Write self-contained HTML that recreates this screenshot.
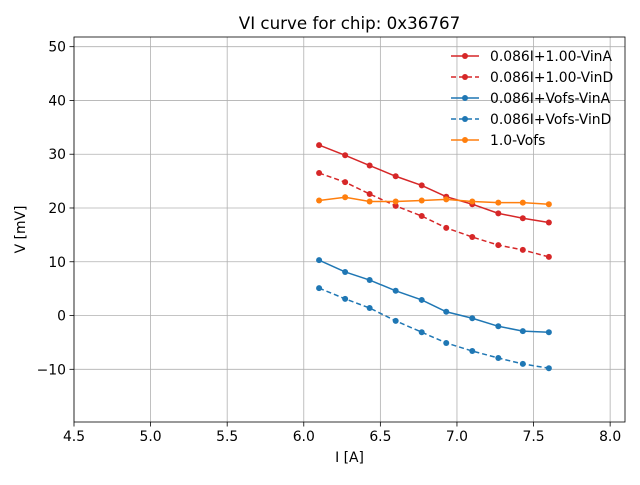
<!DOCTYPE html>
<html><head><meta charset="utf-8"><style>
body{margin:0;background:#fff;font-family:"Liberation Sans","DejaVu Sans",sans-serif;}
svg text{font-family:"DejaVu Sans","Liberation Sans",sans-serif;}
</style></head><body>
<svg id="chart" width="640" height="480" xmlns="http://www.w3.org/2000/svg"></svg>
<script>
const xValues=[6.1,6.27,6.43,6.6,6.77,6.93,7.1,7.27,7.43,7.6];
const redSolid=[31.7,29.8,27.9,25.9,24.2,22.1,20.7,19.0,18.1,17.3];
const redDashed=[26.5,24.8,22.6,20.4,18.5,16.3,14.6,13.1,12.2,10.9];
const blueSolid=[10.3,8.1,6.6,4.6,2.9,0.7,-0.5,-2.0,-2.9,-3.1];
const blueDashed=[5.1,3.1,1.4,-1.0,-3.1,-5.1,-6.6,-7.9,-9.0,-9.8];
const orange=[21.4,22.0,21.2,21.2,21.4,21.6,21.2,21.0,21.0,20.7];
const xTicks=[4.5,5.0,5.5,6.0,6.5,7.0,7.5,8.0];
const yTicks=[-10,0,10,20,30,40,50];
const seriesNames=["0.086I+1.00-VinA","0.086I+1.00-VinD","0.086I+Vofs-VinA","0.086I+Vofs-VinD","1.0-Vofs"];

const L=74,R=625,T=37,B=422,xmin=4.5,xmax=8.097,ymin=-19.8,ymax=51.8;
const sx=v=>L+(v-xmin)/(xmax-xmin)*(R-L);
const sy=v=>B-(v-ymin)/(ymax-ymin)*(B-T);
const svg=document.getElementById('chart');
const NS='http://www.w3.org/2000/svg';
function mk(tag,attrs,parent){const e=document.createElementNS(NS,tag);for(const k in attrs)e.setAttribute(k,attrs[k]);(parent||svg).appendChild(e);return e;}
xTicks.forEach(t=>{const l=mk('line',{x1:sx(t),x2:sx(t),y1:T,y2:B,stroke:'#b0b0b0','stroke-width':0.8});


mk('line',{x1:sx(t),x2:sx(t),y1:B,y2:B+4.5,stroke:'#000','stroke-width':0.8});
const tx=mk('text',{x:sx(t),y:B+19,'text-anchor':'middle','font-size':13.9});tx.textContent=t.toFixed(1);

});
yTicks.forEach(t=>{const l=mk('line',{x1:L,x2:R,y1:sy(t),y2:sy(t),stroke:'#b0b0b0','stroke-width':0.8});


mk('line',{x1:L-4.5,x2:L,y1:sy(t),y2:sy(t),stroke:'#000','stroke-width':0.8});
const tx=mk('text',{x:L-8,y:sy(t)+5,'text-anchor':'end','font-size':13.9});tx.textContent=(t<0?'\u2212'+(-t):t);

});
const frame=mk('rect',{x:L,y:T,width:R-L,height:B-T,fill:'none',stroke:'#000','stroke-width':0.8});


const title=mk('text',{x:(L+R)/2,y:T-8,'text-anchor':'middle','font-size':16.7});title.textContent='VI curve for chip: 0x36767';


const xl=mk('text',{x:(L+R)/2,y:B+40,'text-anchor':'middle','font-size':13.9});xl.textContent='I [A]';


const yl=mk('text',{x:0,y:0,'text-anchor':'middle','font-size':13.9,transform:`translate(25,${(T+B)/2}) rotate(-90)`});yl.textContent='V [mV]';


const series=[[redSolid,'#d62728',''],[redDashed,'#d62728','5,3'],[blueSolid,'#1f77b4',''],[blueDashed,'#1f77b4','5,3'],[orange,'#ff7f0e','']];
series.forEach((s,i)=>{const g=mk('g',{});


mk('polyline',{points:xValues.map((x,j)=>sx(x)+','+sy(s[0][j])).join(' '),fill:'none',stroke:s[1],'stroke-width':1.5,'stroke-dasharray':s[2]},g);
xValues.forEach((x,j)=>{const c=mk('circle',{cx:sx(x),cy:sy(s[0][j]),r:3,fill:s[1]},g);

});
const ly=56+i*21;
const lg=mk('g',{});


mk('line',{x1:451,x2:479,y1:ly,y2:ly,stroke:s[1],'stroke-width':1.5,'stroke-dasharray':s[2]},lg);
mk('circle',{cx:465,cy:ly,r:3,fill:s[1]},lg);
const t=mk('text',{x:490,y:ly+5,'font-size':13.9},lg);t.textContent=seriesNames[i];});
</script>
</body></html>
